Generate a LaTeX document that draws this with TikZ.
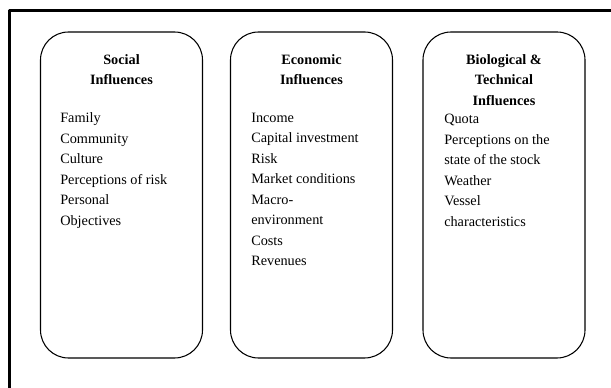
\documentclass[tikz,border=0pt]{standalone}
\usepackage{fontspec}
\setmainfont{Liberation Serif}
\usepackage{tikz}
\usetikzlibrary{positioning}

\begin{document}
\begin{tikzpicture}[line cap=round,line join=round,x=0.75pt,y=-0.75pt,
  every node/.style={font=\fontsize{10.7pt}{15.4pt}\selectfont},
  infobox/.style={draw,line width=0.8pt,rounded corners=21pt,minimum width=121.5pt,minimum height=244.5pt,inner sep=0pt},
  boxhead/.style={font=\fontsize{10.7pt}{15.4pt}\selectfont\bfseries,align=center,anchor=north,inner sep=0pt},
  boxitems/.style={align=left,anchor=north west,inner sep=0pt}]
\clip(0,0) rectangle (611,388);
% outer frame, only its top and left edges lie in the picture
\draw [line width=1.9pt] (9.5,420) -- (9.5,10.5) -- (640,10.5);
% the three groups
\node[infobox] (social) at (121.5,195) {};
\node[infobox] (economic) at (311.5,195) {};
\node[infobox] (biotech) at (504,195) {};
\node[boxhead] (socialhead) at (121.5,54) {Social\\Influences};
\node[boxhead] (economichead) at (311.5,54) {Economic\\Influences};
\node[boxhead] (biotechhead) at (504,54) {Biological \&\\Technical\\Influences};
\node[boxitems] (socialitems) at (60,112.5) {Family\\Community\\Culture\\Perceptions of risk\\Personal\\Objectives};
\node[boxitems] (economicitems) at (251,112.5) {Income\\Capital investment\\Risk\\Market conditions\\Macro-\\environment\\Costs\\Revenues};
\node[boxitems] (biotechitems) at (444,114) {Quota\\Perceptions on the\\state of the stock\\Weather\\Vessel\\characteristics};
\end{tikzpicture}
\end{document}
